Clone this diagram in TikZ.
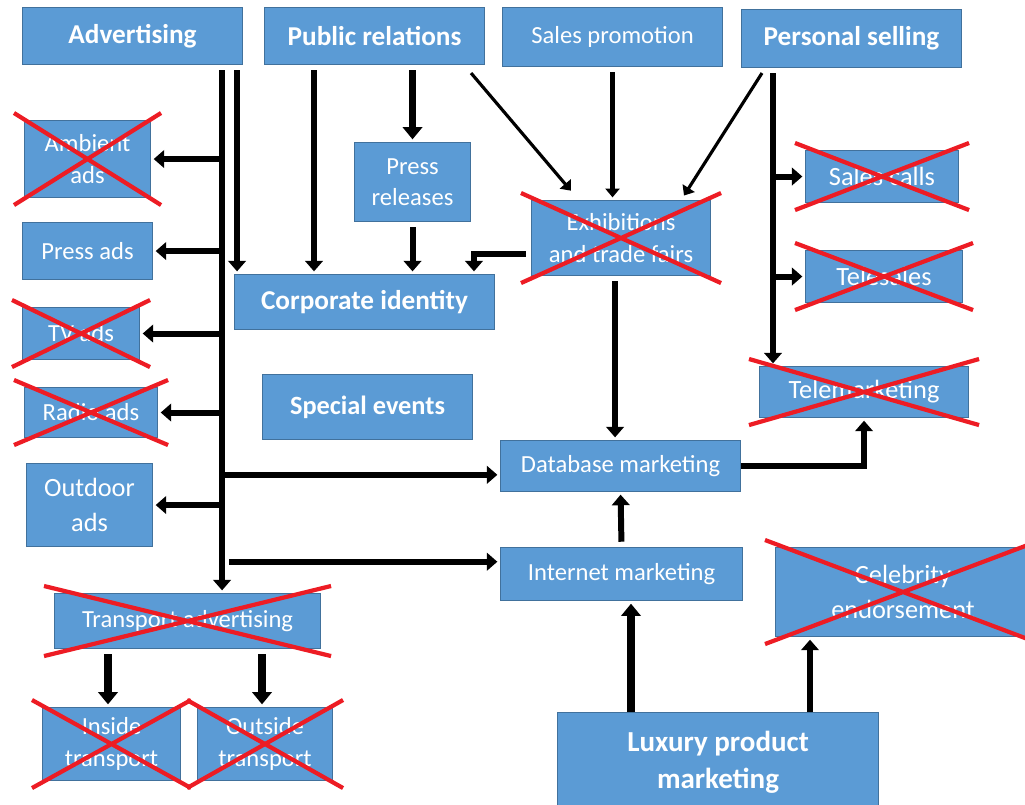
\documentclass[tikz,border=0pt]{standalone}
\usepackage{fontspec}
\setmainfont{Carlito}
\usetikzlibrary{arrows.meta,calc}
\definecolor{boxblue}{RGB}{91,155,213}
\definecolor{boxedge}{RGB}{65,113,156}
\definecolor{crossred}{RGB}{237,28,36}

\begin{document}
\begin{tikzpicture}[
    x=0.02cm, y=-0.02cm,
    % Stile per i riquadri blu
    box/.style={draw=boxedge, line width=0.6pt, fill=boxblue, text=white,
        anchor=north west, align=center, inner sep=2pt,
        font=\fontsize{14}{18}\selectfont},
    sz/.style 2 args={minimum width=#1*0.02cm, minimum height=#2*0.02cm},
    % Stile per i titoli in grassetto
    big/.style={font=\fontsize{15.5}{19}\selectfont\bfseries},
    mid/.style={font=\fontsize{15}{20}\selectfont},
    % Stile per le frecce
    arr/.style={line width=3.4pt, -{Triangle[length=6pt,width=10pt]},
        shorten <=3pt, shorten >=1.5pt},
    heavy/.style={arr, line width=4.4pt, -{Triangle[length=7pt,width=11pt]}},
    thinarr/.style={line width=1.8pt, -{Triangle[length=5pt,width=8pt]},
        shorten >=1pt},
    midarr/.style={arr, line width=2.4pt, -{Triangle[length=5pt,width=8pt]}},
    % Stile per le croci rosse
    cross/.style={draw=crossred, line width=2.4pt}
]
\path[use as bounding box, fill=white] (0,0) rectangle (1025,805);

% --- RIGA IN ALTO ---
\node[box, big, sz={220}{57}] (adv) at (22,7) {Advertising};
\node[box, big, sz={220}{57}] (pr) at (264,7) {Public relations};
\node[box, sz={220}{59}] (sp) at (502,7) {Sales promotion};
\node[box, big, sz={220}{58}] (ps) at (741,9) {Personal selling};

% --- COLONNA SINISTRA ---
\node[box, sz={126}{77}] (amb) at (24,120) {Ambient\\ads};
\node[box, sz={130}{57}] (pads) at (22,222) {Press ads};
\node[box, sz={117}{52}] (tv) at (22,307) {TV ads};
\node[box, sz={133}{50}] (radio) at (24,387) {Radio ads};
\node[box, mid, sz={126}{83}] (outd) at (26,463) {Outdoor\\ads};
\node[box, sz={266}{55}] (trans) at (54,593) {Transport advertising};
\node[box, sz={138}{73}] (inside) at (42,707) {Inside\\transport};
\node[box, sz={135}{73}] (outside) at (197,707) {Outside\\transport};

% --- CENTRO ---
\node[box, sz={116}{79}] (press) at (354,142) {Press\\releases};
\node[box, big, sz={260}{55}] (corp) at (234,274) {Corporate identity};
\node[box, big, font=\fontsize{15}{19}\selectfont\bfseries, sz={210}{65}] (spev) at (262,374) {Special events};
\node[box, sz={179}{75}] (exh) at (531,200) {Exhibitions\\and trade fairs};
\node[box, sz={240}{51}] (db) at (500,440) {Database marketing};
\node[box, sz={242}{53}] (inet) at (500,547) {Internet marketing};
\node[box, big, font=\fontsize{16.5}{21}\selectfont\bfseries, sz={321}{100}] (lux) at (557,712) {Luxury product\\marketing};

% --- COLONNA DESTRA ---
\node[box, mid, sz={153}{52}] (scalls) at (805,150) {Sales calls};
\node[box, mid, sz={157}{52}] (tsales) at (805,250) {Telesales};
\node[box, mid, sz={209}{51}] (tele) at (759,366) {Telemarketing};
\node[box, mid, sz={255}{89}] (celeb) at (775,547) {Celebrity\\endorsement};

% --- Advertising ---
\path (adv.south east) ++(-21,0) coordinate (adT);
\path (adv.south east) ++(-6,0) coordinate (adC);
\path ([yshift=-5pt]db.west) coordinate (dbin);
\path ([yshift=7pt]inet.west) coordinate (inin);
\draw[arr] (adT) -- (adT |- trans.north);
\foreach \n in {amb,pads,tv,radio,outd}
    \draw[arr, shorten <=0pt] (adT |- \n.east) -- (\n.east);
\draw[arr, shorten <=0pt] (adT |- dbin) -- (dbin);
\draw[arr, shorten <=0pt] ([xshift=4pt]adT |- inin) -- (inin);
\draw[arr] (adC) -- (adC |- corp.north);

% --- Transport advertising ---
\path (trans.south west) ++(54,0) coordinate (trA);
\path (trans.south west) ++(208,0) coordinate (trB);
\draw[heavy] (trA) -- (trA |- inside.north);
\draw[heavy] (trB) -- (trB |- outside.north);

% --- Public relations ---
\path (pr.south west) ++(50,0) coordinate (prC);
\draw[arr] (prC) -- (prC |- corp.north);
\draw[heavy] (pr.south -| press.north) -- (press.north);
\draw[thinarr] ([shift={(-14,8)}]pr.south east) -- ([shift={(41,-8)}]exh.north west);
\draw[arr] (press.south) -- (press.south |- corp.north);
\draw[arr] ([yshift=-9pt]exh.west) -| ([xshift=-12pt]corp.north east);

% --- Sales promotion ---
\draw[midarr] (sp.south) -- (sp.south |- exh.north);

% --- Personal selling ---
\draw[thinarr] ([shift={(21,5)}]ps.south west) -- ([shift={(-28,-3)}]exh.north east);
\path (ps.south west) ++(32,0) coordinate (psT);
\draw[arr] (psT) -- (psT |- tele.north);
\foreach \n in {scalls,tsales}
    \draw[arr, shorten <=0pt] (psT |- \n.west) -- (\n.west);

% --- Database e Internet ---
\draw[arr] ([xshift=-3.4pt]exh.south) -- ([xshift=-3.4pt]exh.south |- db.north);
\draw[arr, shorten <=0pt] (db.east) -| (tele.south);
\draw[arr] (inet.north) -- (db.south);
\path (lux.north west) ++(74,0) coordinate (luxA);
\path (lux.north west) ++(253,0) coordinate (luxB);
\draw[heavy, shorten <=0pt] (luxA) -- (luxA |- inet.south);
\draw[arr, shorten <=0pt] (luxB) -- (luxB |- celeb.south);

% --- CROCI ---
\foreach \n in {amb,tv,radio,trans,inside,outside,exh,scalls,tsales,tele,celeb}
    \draw[cross] ([shift={(-10,-7)}]\n.north west) -- ([shift={(10,7)}]\n.south east)
                 ([shift={(-10,7)}]\n.south west) -- ([shift={(10,-7)}]\n.north east);

\end{tikzpicture}
\end{document}
